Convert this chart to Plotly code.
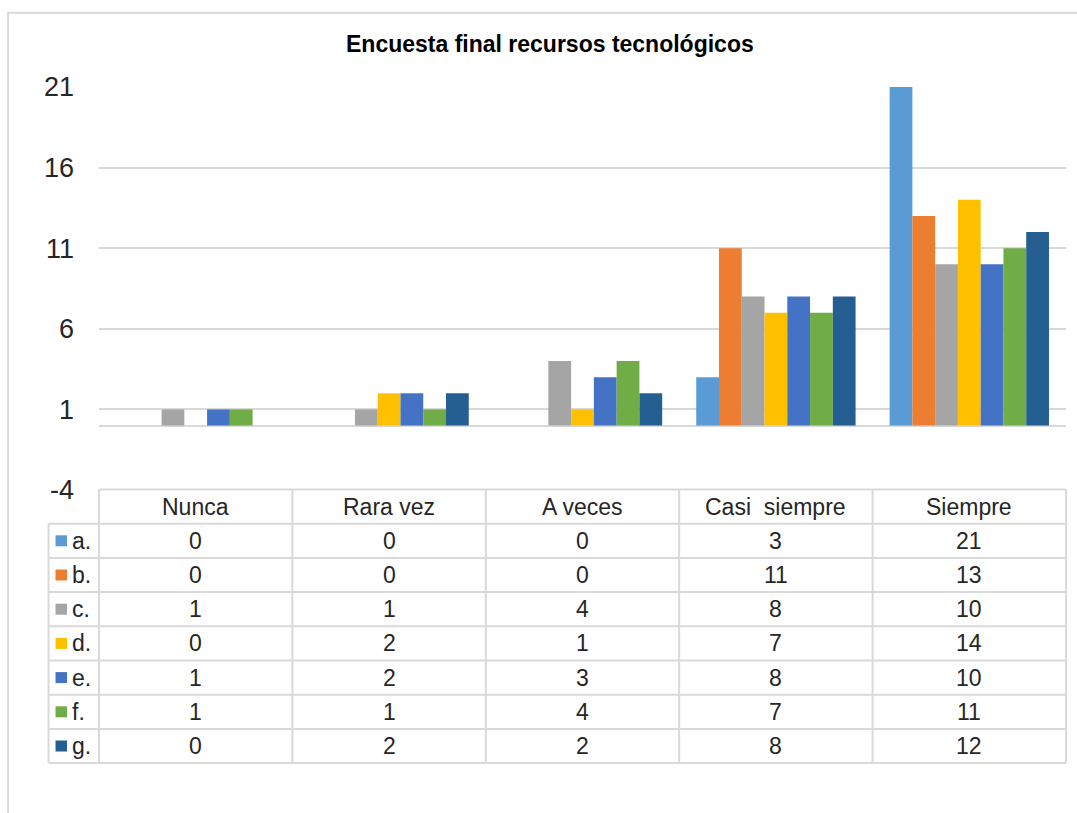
import plotly.graph_objects as go

# Survey answers per item (a.–g.) across the five frequency categories
categories = ["Nunca", "Rara vez", "A veces", "Casi  siempre", "Siempre"]
series_names = ["a.", "b.", "c.", "d.", "e.", "f.", "g."]
a_vals = [0, 0, 0, 3, 21]
b_vals = [0, 0, 0, 11, 13]
c_vals = [1, 1, 4, 8, 10]
d_vals = [0, 2, 1, 7, 14]
e_vals = [1, 2, 3, 8, 10]
f_vals = [1, 1, 4, 7, 11]
g_vals = [0, 2, 2, 8, 12]
y_ticks = [-4, 1, 6, 11, 16, 21]

series_values = [a_vals, b_vals, c_vals, d_vals, e_vals, f_vals, g_vals]
colors = ["#5B9BD5", "#ED7D31", "#A5A5A5", "#FFC000", "#4472C4", "#70AD47", "#255E91"]

W, H = 1077, 813
L, R = 98.5, 1066.0          # plot area, pixels
T, B = 86.7, 489.7
FONT = "Liberation Sans, Arial, sans-serif"
GRID = "#d9d9d9"
TEXT = "#262626"


def px(x):
    return (x - L) / (R - L)


def py(y):
    return (B - y) / (B - T)


fig = go.Figure()
for name, vals, col in zip(series_names, series_values, colors):
    fig.add_trace(go.Bar(
        x=categories, y=vals, name=name,
        marker=dict(color=col, line=dict(width=0)),
        hoverinfo="skip",
    ))

shapes = []
annotations = []

# outer chart border
shapes.append(dict(type="rect", xref="paper", yref="paper",
                   x0=px(7.5), x1=px(1085), y0=py(12.5), y1=py(830),
                   line=dict(color=GRID, width=2), fillcolor="rgba(0,0,0,0)",
                   layer="below"))

# data table under the plot
row_h = 34.2
tbl_top = 489.2
legend_left = 48.0
n_rows = len(series_names)
tbl_bottom = tbl_top + row_h * (n_rows + 1)
col_w = (R - L) / len(categories)


def hline(y, x0, x1):
    shapes.append(dict(type="line", xref="paper", yref="paper",
                       x0=px(x0), x1=px(x1), y0=py(y), y1=py(y),
                       line=dict(color=GRID, width=2)))


def vline(x, y0, y1):
    shapes.append(dict(type="line", xref="paper", yref="paper",
                       x0=px(x), x1=px(x), y0=py(y0), y1=py(y1),
                       line=dict(color=GRID, width=2)))


hline(tbl_top, L, R)
for i in range(1, n_rows + 2):
    hline(tbl_top + i * row_h, legend_left, R)
vline(legend_left, tbl_top + row_h, tbl_bottom)
for j in range(len(categories) + 1):
    vline(L + j * col_w, tbl_top, tbl_bottom)

TBL_FONT = 23
for j, cat in enumerate(categories):
    annotations.append(dict(
        xref="paper", yref="paper", x=px(L + (j + 0.5) * col_w), y=py(tbl_top + row_h / 2),
        text=cat.replace("  ", "\u00a0 "), showarrow=False, xanchor="center", yanchor="middle",
        font=dict(family=FONT, size=TBL_FONT, color=TEXT)))

for i, (name, vals, col) in enumerate(zip(series_names, series_values, colors)):
    yc = tbl_top + (i + 1.5) * row_h
    shapes.append(dict(type="rect", xref="paper", yref="paper",
                       x0=px(55), x1=px(66.5), y0=py(yc - 5.5), y1=py(yc + 5.5),
                       fillcolor=col, line=dict(width=0)))
    annotations.append(dict(
        xref="paper", yref="paper", x=px(69), y=py(yc),
        text=name, showarrow=False, xanchor="left", yanchor="middle",
        font=dict(family=FONT, size=TBL_FONT, color=TEXT)))
    for j, v in enumerate(vals):
        annotations.append(dict(
            xref="paper", yref="paper", x=px(L + (j + 0.5) * col_w), y=py(yc),
            text=str(v), showarrow=False, xanchor="center", yanchor="middle",
            font=dict(family=FONT, size=TBL_FONT, color=TEXT)))

# chart title
annotations.append(dict(
    xref="paper", yref="paper", x=px(550), y=py(44),
    text="<b>Encuesta final recursos tecnológicos</b>", showarrow=False,
    xanchor="center", yanchor="middle",
    font=dict(family=FONT, size=23, color="#000000")))

fig.update_layout(
    width=W, height=H,
    margin=dict(l=L, r=W - R, t=T, b=H - B, pad=0),
    paper_bgcolor="white", plot_bgcolor="white",
    barmode="group", bargap=0.176, bargroupgap=0,
    showlegend=False,
    shapes=shapes, annotations=annotations,
    xaxis=dict(showticklabels=False, showgrid=False, zeroline=False,
               showline=False, ticks=""),
    yaxis=dict(range=[-4, 21], tickvals=y_ticks, ticktext=[str(t) for t in y_ticks],
               showgrid=True, gridcolor=GRID, gridwidth=2,
               zeroline=True, zerolinecolor=GRID, zerolinewidth=2,
               showline=False, ticks="", ticklabelstandoff=24,
               tickfont=dict(family=FONT, size=27, color=TEXT)),
)

fig.write_html("out.html")
